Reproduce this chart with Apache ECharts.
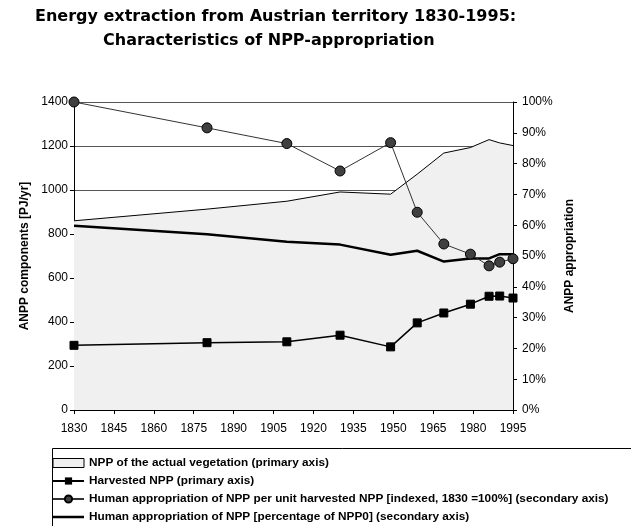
<!DOCTYPE html>
<html>
<head>
<meta charset="utf-8">
<script src="https://cdn.jsdelivr.net/npm/echarts@6/dist/echarts.min.js"></script>
<style>
html,body{margin:0;padding:0;background:#fff;}
#chart{width:631px;height:526px;}
</style>
</head>
<body>
<div id="chart"></div>
<script>
// Data
var years = [1830, 1880, 1910, 1930, 1949, 1959, 1969, 1979, 1986, 1990, 1995];
var nppActual = [860, 913, 949, 991, 981, 1072, 1168, 1193, 1229, 1214, 1202];      // PJ/yr
var harvested = [294, 306, 310, 340, 287, 396, 441, 481, 517, 518, 509];          // PJ/yr
var hanppPerHarvest = [100, 91.6, 86.5, 77.6, 86.8, 64.2, 53.9, 50.6, 46.8, 48.0, 49.1]; // %
var hanppPercent = [59.8, 57.1, 54.6, 53.7, 50.4, 51.7, 48.2, 49.2, 49.2, 50.6, 50.6];  // %
var seriesNames = [
  'NPP of the actual vegetation (primary axis)',
  'Harvested NPP (primary axis)',
  'Human appropriation of NPP per unit harvested NPP [indexed, 1830 =100%] (secondary axis)',
  'Human appropriation of NPP [percentage of NPP0] (secondary axis)'
];
var titleLines = ['Energy extraction from Austrian territory 1830-1995:', 'Characteristics of NPP-appropriation'];

function pairs(vals) { return years.map(function (y, i) { return [y, vals[i]]; }); }

var FONT = '"Liberation Sans", Arial, sans-serif';
var TFONT = '"DejaVu Sans", sans-serif';
// legend icon: a plain thick line (bounding box kept 31x9 by two degenerate points)
var thickLineIcon = 'path://M0,0L0.01,0L0,0.01Z M0,3.2L31,3.2L31,5.8L0,5.8Z M0,9L0.01,9L0,8.99Z';
var chart = echarts.init(document.getElementById('chart'), null, {renderer: 'canvas'});
chart.setOption({
  animation: false,
  backgroundColor: '#fff',
  textStyle: {fontFamily: FONT, color: '#000'},
  title: [
    {text: titleLines[0], left: 35, top: 9, padding: 0, textStyle: {fontFamily: TFONT, fontSize: 16, fontWeight: 'bold', color: '#000'}},
    {text: titleLines[1], left: 103, top: 33, padding: 0, textStyle: {fontFamily: TFONT, fontSize: 16, fontWeight: 'bold', color: '#000'}}
  ],
  graphic: [{
    type: 'rect', left: 52, top: 448, z: -1,
    shape: {width: 600, height: 100},
    style: {fill: '#fff', stroke: '#000', lineWidth: 1}
  }],
  legend: {
    orient: 'vertical', left: 52, top: 456, padding: 0,
    itemWidth: 31, itemHeight: 9, itemGap: 4,
    textStyle: {fontFamily: FONT, fontSize: 11.8, fontWeight: 'bold', color: '#000', lineHeight: 14},
    data: [
      {name: seriesNames[0], icon: 'rect', itemStyle: {color: '#f0f0f0', borderColor: '#000', borderWidth: 1}},
      {name: seriesNames[1]},
      {name: seriesNames[2]},
      {name: seriesNames[3], icon: thickLineIcon, itemStyle: {color: '#000'}}
    ]
  },
  grid: {left: 74, right: 118, top: 102, bottom: 116},
  xAxis: {
    type: 'value', min: 1830, max: 1995, interval: 15,
    axisLine: {show: true, lineStyle: {color: '#000', width: 1}},
    axisTick: {show: true, length: 4, lineStyle: {color: '#000'}},
    axisLabel: {fontFamily: FONT, fontSize: 12, color: '#000', margin: 13, formatter: function (v) { return String(v); }},
    splitLine: {show: false}
  },
  yAxis: [{
    type: 'value', min: 0, max: 1400, interval: 200, position: 'left',
    name: 'ANPP components [PJ/yr]', nameLocation: 'middle', nameGap: 31, nameRotate: 90,
    nameTextStyle: {fontFamily: FONT, fontSize: 12, fontWeight: 'bold', color: '#000'},
    axisLine: {show: true, lineStyle: {color: '#000', width: 1}},
    axisTick: {show: true, length: 4, lineStyle: {color: '#000'}},
    axisLabel: {fontFamily: FONT, fontSize: 12, color: '#000', margin: 6, formatter: function (v) { return String(v); }},
    splitLine: {show: true, lineStyle: {color: '#555', width: 1}}
  }, {
    type: 'value', min: 0, max: 100, interval: 10, position: 'right',
    name: 'ANPP appropriation', nameLocation: 'middle', nameGap: 46, nameRotate: 90,
    nameTextStyle: {fontFamily: FONT, fontSize: 12, fontWeight: 'bold', color: '#000'},
    axisLine: {show: true, lineStyle: {color: '#000', width: 1}},
    axisTick: {show: true, length: 4, lineStyle: {color: '#000'}},
    axisLabel: {fontFamily: FONT, fontSize: 12, color: '#000', margin: 9, formatter: '{value}%'},
    splitLine: {show: false}
  }],
  series: [{
    name: seriesNames[0], type: 'line', yAxisIndex: 0, data: pairs(nppActual),
    symbol: 'none', z: 1,
    lineStyle: {color: '#000', width: 1},
    itemStyle: {color: '#f0f0f0', borderColor: '#000'},
    areaStyle: {color: '#f0f0f0', opacity: 1}
  }, {
    name: seriesNames[3], type: 'line', yAxisIndex: 1, data: pairs(hanppPercent),
    symbol: 'none', z: 3,
    lineStyle: {color: '#000', width: 2.5},
    itemStyle: {color: '#000'}
  }, {
    name: seriesNames[1], type: 'line', yAxisIndex: 0, data: pairs(harvested),
    symbol: 'rect', symbolSize: 8, z: 4,
    lineStyle: {color: '#000', width: 1.5},
    itemStyle: {color: '#000', borderColor: '#000'}
  }, {
    name: seriesNames[2], type: 'line', yAxisIndex: 1, data: pairs(hanppPerHarvest),
    symbol: 'circle', symbolSize: 10, z: 5,
    lineStyle: {color: '#333', width: 1},
    itemStyle: {color: '#404040', borderColor: '#000', borderWidth: 1, opacity: 1}
  }]
});
</script>
</body>
</html>
